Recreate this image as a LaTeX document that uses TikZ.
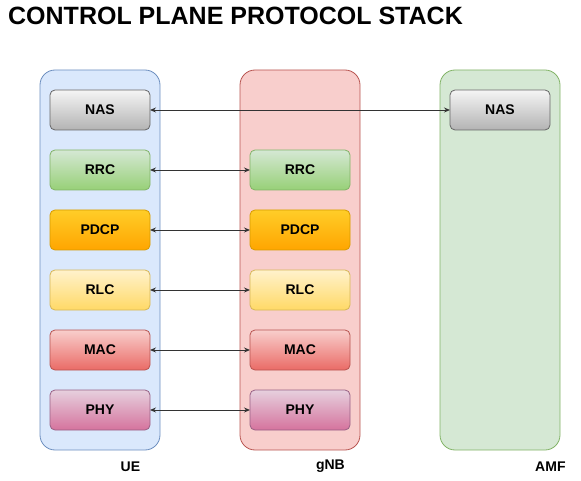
\documentclass[tikz,border=0pt]{standalone}
\usepackage{fontspec}
\setmainfont{Liberation Sans}
\usepackage{xcolor}
\usetikzlibrary{arrows.meta,positioning,calc}

\definecolor{uefill}{HTML}{DAE8FC}   \definecolor{uedraw}{HTML}{6C8EBF}
\definecolor{gnbfill}{HTML}{F8CECC}  \definecolor{gnbdraw}{HTML}{B85450}
\definecolor{amffill}{HTML}{D5E8D4}  \definecolor{amfdraw}{HTML}{82B366}
\definecolor{nastop}{HTML}{F5F5F5}   \definecolor{nasbot}{HTML}{B3B3B3}   \definecolor{nasdraw}{HTML}{666666}
\definecolor{rrctop}{HTML}{D5E8D4}   \definecolor{rrcbot}{HTML}{97D077}   \definecolor{rrcdraw}{HTML}{82B366}
\definecolor{pdcptop}{HTML}{FFCD28}  \definecolor{pdcpbot}{HTML}{FFA500}  \definecolor{pdcpdraw}{HTML}{D79B00}
\definecolor{rlctop}{HTML}{FFF2CC}   \definecolor{rlcbot}{HTML}{FFD966}   \definecolor{rlcdraw}{HTML}{D6B656}
\definecolor{mactop}{HTML}{F8CECC}   \definecolor{macbot}{HTML}{EA6B66}   \definecolor{macdraw}{HTML}{B85450}
\definecolor{phytop}{HTML}{E6D0DE}   \definecolor{phybot}{HTML}{D5739D}   \definecolor{phydraw}{HTML}{996185}

\tikzset{
  colbox/.style={
    rectangle, rounded corners=15pt, draw=#1draw, fill=#1fill,
    minimum width=120pt, minimum height=380pt, line width=0.8pt
  },
  layer/.style={
    rectangle, rounded corners=5pt, draw=#1draw,
    top color=#1top, bottom color=#1bot, line width=0.8pt,
    minimum width=100pt, minimum height=40pt, inner sep=0pt, outer sep=0pt,
    font=\fontsize{14}{16}\selectfont\bfseries
  },
  arr/.style={{Stealth[length=6pt,width=5pt]}-{Stealth[length=6pt,width=5pt]}, line width=0.9pt, black!80},
  lbl/.style={font=\fontsize{14}{16}\selectfont\bfseries, inner sep=0pt}
}

\begin{document}
\begin{tikzpicture}[x=1pt, y=1pt, node distance=20pt]

\useasboundingbox (0,0) rectangle (581,-481);

% Title
\node[anchor=west, inner sep=0pt, font=\fontsize{25}{30}\selectfont\bfseries] (title)
  at (8,-16) {CONTROL PLANE PROTOCOL STACK};

% Columns
\node[colbox=ue]  (ue)  at (100,-260) {};
\node[colbox=gnb] (gnb) at (300,-260) {};
\node[colbox=amf] (amf) at (500,-260) {};

\node[lbl] at ([xshift=-30pt, yshift=-16pt]ue.south east)  {UE};
\node[lbl] at ([xshift=-30pt, yshift=-16pt]gnb.south east) {gNB};
\node[lbl] at ([xshift=-10pt, yshift=-16pt]amf.south east) {AMF};

% UE stack
\node[layer=nas]  (uenas)  at (100,-110) {NAS};
\node[layer=rrc,  below=of uenas]  (uerrc)  {RRC};
\node[layer=pdcp, below=of uerrc]  (uepdcp) {PDCP};
\node[layer=rlc,  below=of uepdcp] (uerlc)  {RLC};
\node[layer=mac,  below=of uerlc]  (uemac)  {MAC};
\node[layer=phy,  below=of uemac]  (uephy)  {PHY};

% gNB stack
\node[layer=rrc]  (gnbrrc)  at (300,-170) {RRC};
\node[layer=pdcp, below=of gnbrrc]  (gnbpdcp) {PDCP};
\node[layer=rlc,  below=of gnbpdcp] (gnbrlc)  {RLC};
\node[layer=mac,  below=of gnbrlc]  (gnbmac)  {MAC};
\node[layer=phy,  below=of gnbmac]  (gnbphy)  {PHY};

% AMF
\node[layer=nas] (amfnas) at (500,-110) {NAS};

% Peer links
\draw[arr] (uenas.east)  -- (amfnas.west);
\draw[arr] (uerrc.east)  -- (gnbrrc.west);
\draw[arr] (uepdcp.east) -- (gnbpdcp.west);
\draw[arr] (uerlc.east)  -- (gnbrlc.west);
\draw[arr] (uemac.east)  -- (gnbmac.west);
\draw[arr] (uephy.east)  -- (gnbphy.west);

\end{tikzpicture}
\end{document}
